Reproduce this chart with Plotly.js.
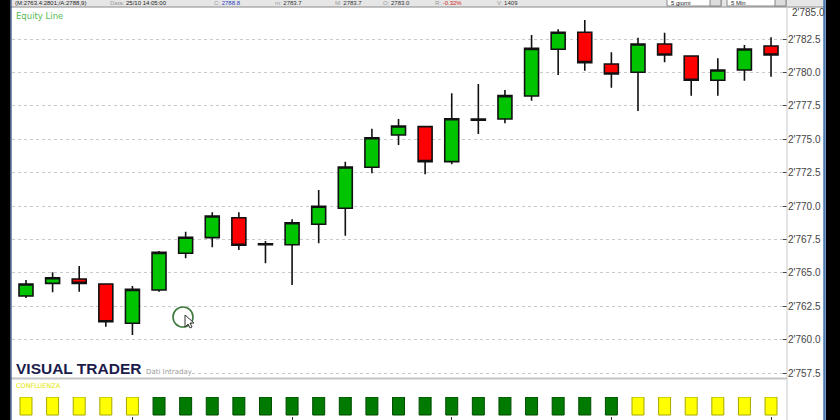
<!DOCTYPE html>
<html>
<head>
<meta charset="utf-8">
<script src="https://cdn.plot.ly/plotly-3.0.1.min.js"></script>
<style>
html,body{margin:0;padding:0;background:#fff;}
#chart{width:840px;height:420px;}
</style>
</head>
<body>
<div id="chart"></div>
<script>
// ---- data ----
const bars = [1,2,3,4,5,6,7,8,9,10,11,12,13,14,15,16,17,18,19,20,21,22,23,24,25,26,27,28,29];
const openV  = [2763.26,2764.21,2764.54,2764.16,2761.22,2763.71,2766.46,2767.63,2769.12,2767.18,2767.10,2768.63,2769.83,2772.90,2775.31,2775.94,2773.32,2776.50,2776.51,2778.23,2781.73,2783.00,2780.63,2780.01,2782.13,2781.23,2779.41,2780.18,2781.98];
const highV  = [2764.46,2765.04,2765.51,2764.20,2764.01,2766.63,2768.08,2769.53,2769.53,2767.38,2769.00,2771.20,2773.32,2775.79,2776.51,2775.98,2778.44,2779.13,2778.68,2782.80,2783.23,2783.92,2781.50,2782.60,2782.97,2781.26,2781.06,2782.05,2782.63];
const lowV   = [2763.11,2763.54,2763.59,2760.97,2760.34,2763.59,2766.09,2766.91,2766.71,2765.71,2764.09,2767.21,2767.78,2772.45,2774.57,2772.37,2773.12,2775.39,2776.19,2777.88,2779.81,2780.13,2778.86,2777.11,2780.76,2778.26,2778.26,2779.38,2779.68];
const closeV = [2764.16,2764.63,2764.21,2761.34,2763.76,2766.53,2767.66,2769.25,2767.06,2767.10,2768.75,2769.98,2772.92,2775.11,2775.99,2773.32,2776.53,2776.42,2778.26,2781.80,2783.00,2780.73,2779.88,2782.13,2781.30,2779.41,2780.18,2781.75,2781.30];
const confluenza = ['giallo','giallo','giallo','giallo','giallo',
  'verde','verde','verde','verde','verde','verde','verde','verde','verde',
  'verde','verde','verde','verde','verde','verde','verde','verde','verde',
  'giallo','giallo','giallo','giallo','giallo','giallo'];
const confValue = [1,1,1,1,1,1,1,1,1,1,1,1,1,1,1,1,1,1,1,1,1,1,1,1,1,1,1,1,1];
const priceTicks = [2757.5,2760.0,2762.5,2765.0,2767.5,2770.0,2772.5,2775.0,2777.5,2780.0,2782.5];
const timeTicks = [5,11,17,23,29];

// ---- styling ----
const W = 840, H = 420;
const px = v => v / W;
const py = v => 1 - v / H;
const confFill = {giallo:'#ffff00', verde:'#007a00'};
const confLine = {giallo:'#a8a800', verde:'#004d00'};

const candle = {
  type:'candlestick', x:bars, open:openV, high:highV, low:lowV, close:closeV,
  xaxis:'x', yaxis:'y',
  increasing:{fillcolor:'#00c400', line:{color:'#111111', width:1.6}},
  decreasing:{fillcolor:'#ff0000', line:{color:'#111111', width:1.6}},
  whiskerwidth:0, showlegend:false, hoverinfo:'none'
};
const conf = {
  type:'bar', x:bars, y:confValue, xaxis:'x2', yaxis:'y2', width:0.45,
  marker:{color:confluenza.map(c=>confFill[c]), line:{color:confluenza.map(c=>confLine[c]), width:1}},
  showlegend:false, hoverinfo:'none'
};

const xr = [1-0.526, 29.6];
const fontLab = {family:'Liberation Sans, Arial, sans-serif', size:10, color:'#444'};

const shapes = [
  // top status bar
  {type:'rect', xref:'paper', yref:'paper', x0:px(11), x1:px(826), y0:py(7), y1:py(0), fillcolor:'#e6e6e6', line:{width:0}, layer:'above'},
  {type:'line', xref:'paper', yref:'paper', x0:px(11), x1:px(826), y0:py(7), y1:py(7), line:{color:'#8a8a8a', width:1}},
  // dropdown boxes
  {type:'rect', xref:'paper', yref:'paper', x0:px(667), x1:px(721), y0:py(6), y1:py(-2), fillcolor:'#ffffff', line:{color:'#888', width:1}, layer:'above'},
  {type:'rect', xref:'paper', yref:'paper', x0:px(710), x1:px(721), y0:py(6), y1:py(-2), fillcolor:'#dcdcdc', line:{color:'#888', width:1}, layer:'above'},
  {type:'rect', xref:'paper', yref:'paper', x0:px(727), x1:px(786), y0:py(6), y1:py(-2), fillcolor:'#ffffff', line:{color:'#888', width:1}, layer:'above'},
  {type:'rect', xref:'paper', yref:'paper', x0:px(775), x1:px(786), y0:py(6), y1:py(-2), fillcolor:'#dcdcdc', line:{color:'#888', width:1}, layer:'above'},
  // white area behind logo
  {type:'rect', xref:'paper', yref:'paper', x0:px(12), x1:px(190), y0:py(377), y1:py(358), fillcolor:'#ffffff', line:{width:0}, layer:'above'},
  // panel separator
  {type:'line', xref:'paper', yref:'paper', x0:px(11), x1:px(787), y0:py(378.5), y1:py(378.5), line:{color:'#c4c4c4', width:2}},
  // right plot border
  {type:'line', xref:'paper', yref:'paper', x0:px(787), x1:px(787), y0:py(7), y1:py(420), line:{color:'#c8c8c8', width:1}},
  // black frame strips
  {type:'rect', xref:'paper', yref:'paper', x0:0, x1:px(10.5), y0:0, y1:1, fillcolor:'#000000', line:{width:0}, layer:'above'},
  {type:'line', xref:'paper', yref:'paper', x0:px(11), x1:px(11), y0:0, y1:1, line:{color:'#2c4c80', width:1.2}, layer:'above'},
  {type:'rect', xref:'paper', yref:'paper', x0:px(826), x1:1, y0:0, y1:1, fillcolor:'#000000', line:{width:0}, layer:'above'},
  {type:'line', xref:'paper', yref:'paper', x0:px(824.5), x1:px(824.5), y0:0, y1:1, line:{color:'#4a78b0', width:2.5}, layer:'above'},
  // cursor circle and pointer
  {type:'circle', xref:'paper', yref:'paper', x0:px(173), x1:px(193), y0:py(327), y1:py(307), line:{color:'#3f7a3f', width:1.6}, layer:'above'},
  {type:'path', xref:'paper', yref:'paper',
   path:`M ${px(185)} ${py(315)} L ${px(185)} ${py(327)} L ${px(188)} ${py(324)} L ${px(190)} ${py(328)} L ${px(192)} ${py(327)} L ${px(190)} ${py(323)} L ${px(194)} ${py(323)} Z`,
   fillcolor:'#ffffff', line:{color:'#333', width:1}, layer:'above'}
];

const ann = (x, y, text, font, extra) => Object.assign({xref:'paper', yref:'paper', x:px(x), y:py(y), text, showarrow:false, xanchor:'left', yanchor:'middle', font}, extra||{});
const sbf = (c) => ({family:'Liberation Sans, Arial, sans-serif', size:6, color:c});
const sb = {yshift:0};
const annotations = [
  ann(13, 3.5, '(M:2763.4:2801;/A:2788,9)', sbf('#222'), sb),
  ann(108, 3.5, '<span style="color:#999">Data:</span> 25/10 14:05:00', sbf('#222'), sb),
  ann(212, 3.5, '<span style="color:#999">C:</span> 2788.8', sbf('#2a3fc0'), sb),
  ann(273, 3.5, '<span style="color:#999">m:</span> 2783.7', sbf('#333'), sb),
  ann(333, 3.5, '<span style="color:#999">M:</span> 2783.7', sbf('#333'), sb),
  ann(381, 3.5, '<span style="color:#999">O:</span> 2783.0', sbf('#333'), sb),
  ann(433, 3.5, '<span style="color:#999">R:</span> -0.32%', sbf('#d02020'), sb),
  ann(495, 3.5, '<span style="color:#999">V:</span> 1409', sbf('#333'), sb),
  ann(669, 3, '5 giorni', sbf('#222'), sb),
  ann(729, 3, '5 Min', sbf('#222'), sb),
  ann(14, 16, 'Equity Line', {family:'DejaVu Sans, sans-serif', size:8.5, color:'#55bb55'}),
  ann(790, 12.5, "2'785.0", fontLab, {xanchor:'left'}),
  ann(14, 368.5, 'VISUAL TRADER', {family:'Liberation Sans, Arial, sans-serif', size:15.5, color:'#1c1c4c', weight:'bold'}),
  ann(144, 372, 'Dati Intraday', {family:'DejaVu Sans, sans-serif', size:7, color:'#9a9a9a'}),
  ann(14, 385.5, 'CONFLUENZA', {family:'DejaVu Sans, sans-serif', size:6.5, color:'#e6e600'})
];

const layout = {
  width:W, height:H, margin:{l:0,r:0,t:0,b:0},
  paper_bgcolor:'#ffffff', plot_bgcolor:'#ffffff',
  separators:".'", boxgap:0.25, bargap:0.5, showlegend:false,
  xaxis:{domain:[px(12), px(787)], range:xr, anchor:'y', showticklabels:false, showgrid:false, zeroline:false,
         rangeslider:{visible:false}, ticks:'', showline:false, fixedrange:true},
  yaxis:{domain:[py(378), py(7)], range:[2757.126, 2784.895], anchor:'x', side:'right',
         tickvals:priceTicks, tickformat:',.1f', tickfont:fontLab,
         ticks:'inside', ticklen:4, tickcolor:'#444', tickwidth:1,
         showgrid:true, gridcolor:'#c9c9c9', gridwidth:1, griddash:'3px,3px',
         zeroline:false, showline:false, fixedrange:true},
  xaxis2:{domain:[px(12), px(787)], range:xr, anchor:'y2', showticklabels:false, showgrid:false, zeroline:false,
          tickvals:timeTicks, ticks:'outside', ticklen:4, tickcolor:'#333', showline:false, fixedrange:true},
  yaxis2:{domain:[py(416), py(397)], range:[-1/18, 1], anchor:'x2', side:'right', showticklabels:false,
          showgrid:false, zeroline:false, ticks:'', showline:false, fixedrange:true},
  shapes, annotations
};

Plotly.newPlot('chart', [candle, conf], layout, {staticPlot:true, displayModeBar:false});
</script>
</body>
</html>
